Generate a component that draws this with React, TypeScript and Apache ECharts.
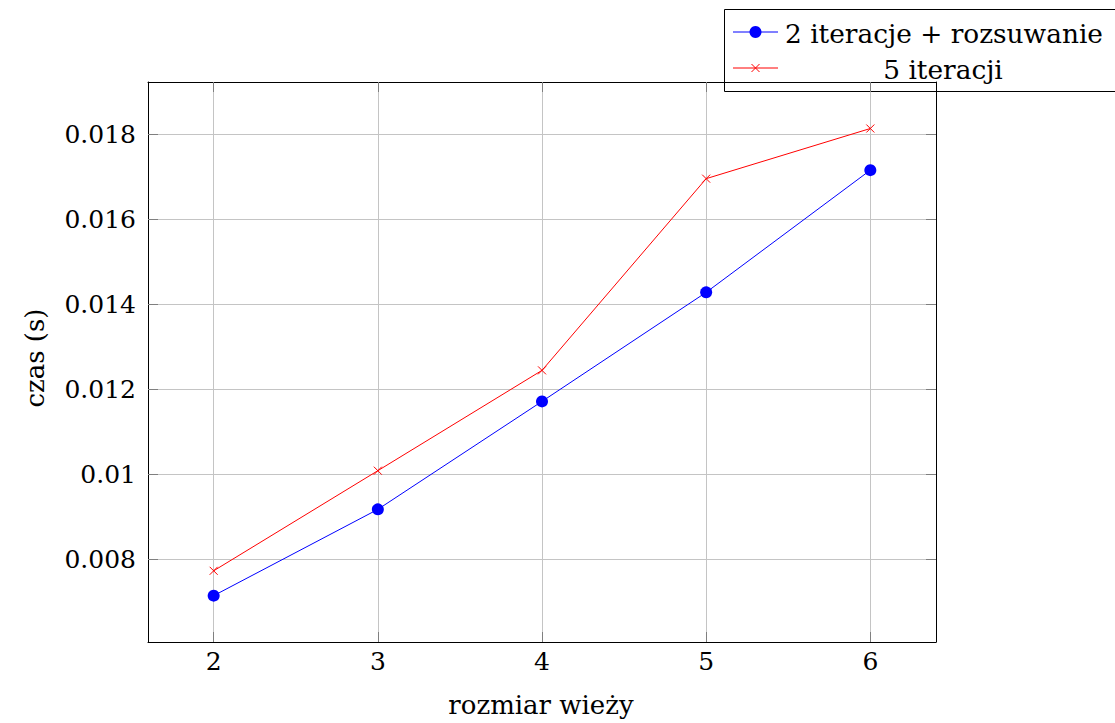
import React, { useEffect, useRef } from "react";
import * as echarts from "echarts";

const towerSizes = [2, 3, 4, 5, 6];
const twoIterShift = [0.00714, 0.00917, 0.01171, 0.014275, 0.01715];
const fiveIter = [0.007725, 0.01008, 0.01244, 0.01695, 0.01813];
const xTicks = [2, 3, 4, 5, 6];
const yTicks = [0.008, 0.01, 0.012, 0.014, 0.016, 0.018];
const yTickLabels = ["0.008", "0.01", "0.012", "0.014", "0.016", "0.018"];
const seriesNames = ["2 iteracje + rozsuwanie", "5 iteracji"];
const xName = "rozmiar wieży";
const yName = "czas (s)";

const FONT = "DejaVu Serif";
const BLUE = "#0000ff";
const RED = "#ff0000";

export default function App() {
  const ref = useRef<HTMLDivElement>(null);
  useEffect(() => {
    if (!ref.current) return;
    const chart = echarts.init(ref.current, undefined, { renderer: "svg" });
    const tickStyle = { color: "#7f7f7f", width: 1 };
    const gridStyle = { color: "#c4c4c4", width: 1 };
    const axisLine = { show: true, onZero: false, lineStyle: { color: "#000", width: 1 } };
    const labelStyle = { fontFamily: FONT, fontSize: 25, color: "#000" };
    chart.setOption({
      animation: false,
      backgroundColor: "#fff",
      grid: { left: 148, top: 82, right: 179, bottom: 81, containLabel: false },
      xAxis: [
        {
          type: "value",
          min: 1.6,
          max: 6.4,
          position: "bottom",
          axisLine,
          axisTick: { show: true, inside: true, length: 10, customValues: xTicks, lineStyle: tickStyle },
          axisLabel: { ...labelStyle, customValues: xTicks, margin: 7, formatter: (v: number) => String(v) },
          splitLine: { show: true, lineStyle: gridStyle },
        },
        {
          type: "value",
          min: 1.6,
          max: 6.4,
          position: "top",
          axisLine,
          axisTick: { show: true, inside: true, length: 10, customValues: xTicks, lineStyle: tickStyle },
          axisLabel: { show: false },
          splitLine: { show: false },
        },
      ],
      yAxis: [
        {
          type: "value",
          min: 0.00605,
          max: 0.019224,
          position: "left",
          axisLine,
          axisTick: { show: true, inside: true, length: 10, customValues: yTicks, lineStyle: tickStyle },
          axisLabel: {
            ...labelStyle,
            customValues: yTicks,
            margin: 12,
            formatter: (v: number) => {
              const i = yTicks.findIndex((t) => Math.abs(t - v) < 1e-9);
              return i >= 0 ? yTickLabels[i] : "";
            },
          },
          splitLine: { show: true, lineStyle: gridStyle },
        },
        {
          type: "value",
          min: 0.00605,
          max: 0.019224,
          position: "right",
          axisLine,
          axisTick: { show: true, inside: true, length: 10, customValues: yTicks, lineStyle: tickStyle },
          axisLabel: { show: false },
          splitLine: { show: false },
        },
      ],
      series: [
        {
          name: seriesNames[0],
          type: "line",
          xAxisIndex: 0,
          yAxisIndex: 0,
          data: towerSizes.map((x, i) => [x, twoIterShift[i]]),
          symbol: "circle",
          symbolSize: 12,
          itemStyle: { color: BLUE, borderWidth: 0 },
          lineStyle: { color: BLUE, width: 1 },
          z: 3,
        },
        {
          name: seriesNames[1],
          type: "line",
          xAxisIndex: 0,
          yAxisIndex: 0,
          data: towerSizes.map((x, i) => [x, fiveIter[i]]),
          symbol: "path://M0,0L10,10M0,10L10,0",
          symbolSize: 8,
          itemStyle: { color: "none", borderColor: RED, borderWidth: 1 },
          lineStyle: { color: RED, width: 1 },
          z: 4,
        },
      ],
      graphic: [
        {
          type: "text",
          x: 541,
          y: 705,
          style: { text: xName, fontFamily: FONT, fontSize: 26, fill: "#000", align: "center", verticalAlign: "middle" },
        },
        {
          type: "text",
          x: 35,
          y: 358,
          rotation: Math.PI / 2,
          style: { text: yName, fontFamily: FONT, fontSize: 26, fill: "#000", align: "center", verticalAlign: "middle" },
        },
        {
          type: "group",
          z: 100,
          children: [
            {
              type: "rect",
              shape: { x: 724.5, y: 9.5, width: 400, height: 82 },
              style: { fill: "#fff", stroke: "#000", lineWidth: 1 },
            },
            {
              type: "line",
              shape: { x1: 733, y1: 32, x2: 778, y2: 32 },
              style: { stroke: BLUE, lineWidth: 1 },
            },
            {
              type: "circle",
              shape: { cx: 755.5, cy: 32, r: 6 },
              style: { fill: BLUE },
            },
            {
              type: "text",
              x: 785,
              y: 33,
              style: { text: seriesNames[0], fontFamily: FONT, fontSize: 26.4, fill: "#000", align: "left", verticalAlign: "middle" },
            },
            {
              type: "line",
              shape: { x1: 733, y1: 68, x2: 778, y2: 68 },
              style: { stroke: RED, lineWidth: 1 },
            },
            {
              type: "line",
              shape: { x1: 751.5, y1: 64, x2: 759.5, y2: 72 },
              style: { stroke: RED, lineWidth: 1 },
            },
            {
              type: "line",
              shape: { x1: 751.5, y1: 72, x2: 759.5, y2: 64 },
              style: { stroke: RED, lineWidth: 1 },
            },
            {
              type: "text",
              x: 943,
              y: 69,
              style: { text: seriesNames[1], fontFamily: FONT, fontSize: 26.4, fill: "#000", align: "center", verticalAlign: "middle" },
            },
          ],
        },
      ],
    });
    return () => chart.dispose();
  }, []);
  return (
    <div
      ref={ref}
      style={{ position: "absolute", left: 0, top: 0, width: 1115, height: 723 }}
    />
  );
}
